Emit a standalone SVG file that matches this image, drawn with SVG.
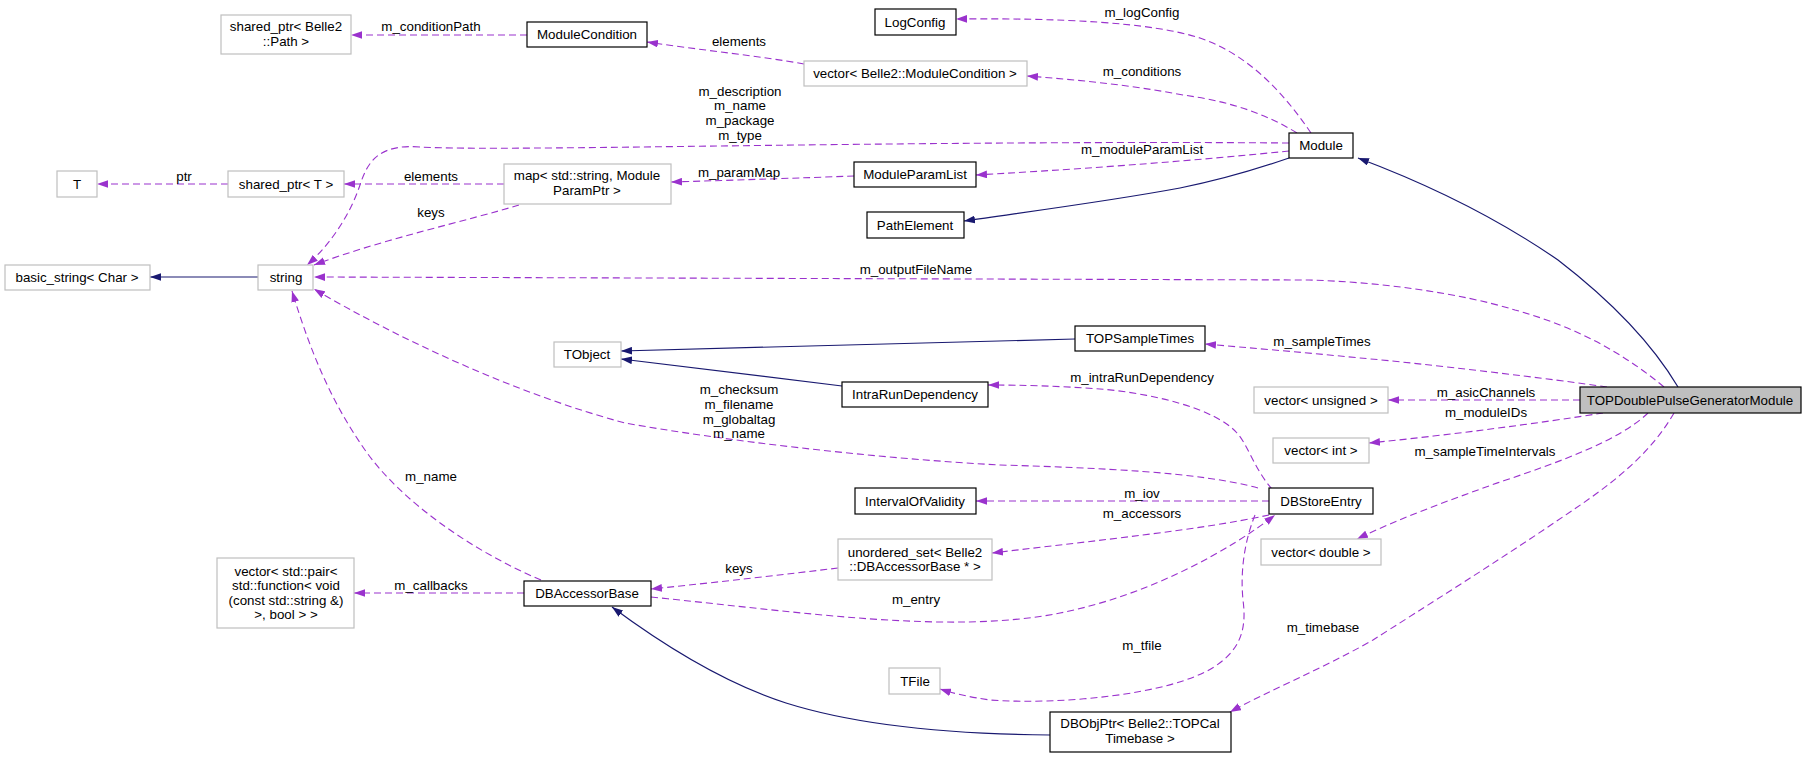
<svg xmlns="http://www.w3.org/2000/svg" width="1807" height="758" viewBox="0 0 1807 758">
<style>
text{font-family:"Liberation Sans",Arial,Helvetica,sans-serif;font-size:13.33px;fill:#000;text-anchor:middle}
.n rect{fill:#fff;stroke:#000;stroke-width:1.2}
.x rect{fill:#fff;stroke:#bfbfbf;stroke-width:1.2}
.m rect{fill:#bfbfbf;stroke:#000;stroke-width:1.2}
.d{fill:none;stroke:#9a32cd;stroke-width:1.1;stroke-dasharray:7,4;marker-end:url(#ap)}
.i{fill:none;stroke:#191970;stroke-width:1.2;marker-end:url(#an)}
</style>
<defs>
<marker id="ap" viewBox="0 0 10 7" refX="10" refY="3.5" markerWidth="11" markerHeight="8" markerUnits="userSpaceOnUse" orient="auto"><path d="M0,0L10,3.5L0,7z" fill="#9a32cd"/></marker>
<marker id="an" viewBox="0 0 10 7" refX="10" refY="3.5" markerWidth="11" markerHeight="8" markerUnits="userSpaceOnUse" orient="auto"><path d="M0,0L10,3.5L0,7z" fill="#191970"/></marker>
</defs>
<rect width="1807" height="758" fill="#fff"/>
<g id="connectors">
<path class="d" d="M527,35L351,35"/><text x="431" y="31">m_conditionPath</text>
<path class="d" d="M804,64C760,56 700,50 647,42"/><text x="739" y="46">elements</text>
<path class="d" d="M1311,133C1285,95 1250,55 1200,38C1150,22 1060,18 956,19"/><text x="1142" y="17">m_logConfig</text>
<path class="d" d="M1297,133C1260,110 1220,100 1183,95C1130,85 1080,80 1027,76"/><text x="1142" y="76">m_conditions</text>
<path class="d" d="M1289,143C900,140 500,152 420,147C380,144 368,160 360,185C350,215 330,245 307,265"/><text x="740" y="96">m_description</text><text x="740" y="110">m_name</text><text x="740" y="125">m_package</text><text x="740" y="140">m_type</text>
<path class="d" d="M1289,151C1200,160 1100,168 976,175"/><text x="1142" y="154">m_moduleParamList</text>
<path class="i" d="M1289,158C1260,168 1220,180 1180,188C1110,201 1040,210 964,221"/>
<path class="i" d="M1678,387C1650,340 1610,300 1558,260C1500,220 1430,185 1358,158"/>
<path class="d" d="M854,176C800,178 740,180 671,182"/><text x="739" y="177">m_paramMap</text>
<path class="d" d="M504,184L344,184"/><text x="431" y="181">elements</text>
<path class="d" d="M228,184L97,184"/><text x="184" y="181">ptr</text>
<path class="d" d="M519,205C470,220 380,240 314,265"/><text x="431" y="217">keys</text>
<path class="i" d="M258,277L150,277"/>
<path class="d" d="M1664,387C1620,350 1570,325 1515,310C1460,293 1380,282 1309,280L314,277"/><text x="916" y="274">m_outputFileName</text>
<path class="i" d="M1075,339L621,351"/>
<path class="i" d="M842,386L621,359"/>
<path class="d" d="M1607,387C1560,380 1420,363 1360,358C1300,352 1250,348 1205,344"/><text x="1322" y="346">m_sampleTimes</text>
<path class="d" d="M1580,400L1388,400"/><text x="1486" y="397">m_asicChannels</text>
<path class="d" d="M1603,413C1540,423 1450,435 1369,443"/><text x="1486" y="417">m_moduleIDs</text>
<path class="d" d="M1648,413C1620,440 1560,462 1500,482C1450,500 1400,518 1357,539"/><text x="1485" y="456">m_sampleTimeIntervals</text>
<path class="d" d="M1674,413C1650,455 1610,485 1573,510C1500,560 1420,610 1373,640C1320,670 1270,690 1230,712"/><text x="1323" y="632">m_timebase</text>
<path class="d" d="M1272,489C1255,470 1248,445 1237,433C1215,408 1150,393 1100,389C1060,386 1020,385 988,385"/><text x="1142" y="382">m_intraRunDependency</text>
<path class="d" d="M1258,488C1200,472 1100,468 1000,465C870,458 720,440 625,423C520,395 400,340 314,289"/><text x="739" y="394">m_checksum</text><text x="739" y="409">m_filename</text><text x="739" y="424">m_globaltag</text><text x="739" y="438">m_name</text>
<path class="d" d="M1269,501L976,501"/><text x="1142" y="498">m_iov</text>
<path class="d" d="M1269,515C1200,530 1100,540 992,553"/><text x="1142" y="518">m_accessors</text>
<path class="d" d="M651,597C800,612 950,635 1060,613C1150,595 1230,550 1275,515"/><text x="916" y="604">m_entry</text>
<path class="d" d="M838,568C780,575 720,582 651,589"/><text x="739" y="573">keys</text>
<path class="d" d="M1255,515C1245,540 1240,570 1243,600C1247,630 1240,650 1214,667C1170,695 1060,705 990,700C970,697 955,694 940,689"/><text x="1142" y="650">m_tfile</text>
<path class="d" d="M541,580C470,550 400,500 365,450C330,400 310,350 292,291"/><text x="431" y="481">m_name</text>
<path class="d" d="M524,593L354,593"/><text x="431" y="590">m_callbacks</text>
<path class="i" d="M1050,735C920,734 840,720 786,703C730,685 670,650 612,607"/>
</g>
<g id="node-path" class="x"><rect x="221" y="15" width="130" height="39"/><text x="286" y="31">shared_ptr&lt; Belle2</text><text x="286" y="46">::Path &gt;</text></g>
<g id="node-modulecondition" class="n"><rect x="527" y="22" width="120" height="25"/><text x="587" y="39">ModuleCondition</text></g>
<g id="node-logconfig" class="n"><rect x="875" y="9" width="81" height="26"/><text x="915" y="27">LogConfig</text></g>
<g id="node-vecmodcond" class="x"><rect x="804" y="61" width="223" height="25"/><text x="915" y="78">vector&lt; Belle2::ModuleCondition &gt;</text></g>
<g id="node-module" class="n"><rect x="1289" y="133" width="64" height="25"/><text x="1321" y="150">Module</text></g>
<g id="node-t" class="x"><rect x="57" y="171" width="40" height="26"/><text x="77" y="189">T</text></g>
<g id="node-sharedptrt" class="x"><rect x="228" y="171" width="116" height="26"/><text x="286" y="189">shared_ptr&lt; T &gt;</text></g>
<g id="node-map" class="x"><rect x="504" y="164" width="167" height="40"/><text x="587" y="180">map&lt; std::string, Module</text><text x="587" y="195">ParamPtr &gt;</text></g>
<g id="node-moduleparamlist" class="n"><rect x="854" y="162" width="122" height="25"/><text x="915" y="179">ModuleParamList</text></g>
<g id="node-pathelement" class="n"><rect x="867" y="212" width="97" height="26"/><text x="915" y="230">PathElement</text></g>
<g id="node-basicstring" class="x"><rect x="5" y="265" width="145" height="25"/><text x="77" y="282">basic_string&lt; Char &gt;</text></g>
<g id="node-string" class="x"><rect x="258" y="265" width="55" height="25"/><text x="286" y="282">string</text></g>
<g id="node-tobject" class="x"><rect x="554" y="342" width="67" height="25"/><text x="587" y="359">TObject</text></g>
<g id="node-topsampletimes" class="n"><rect x="1075" y="326" width="130" height="25"/><text x="1140" y="343">TOPSampleTimes</text></g>
<g id="node-intrarundependency" class="n"><rect x="842" y="382" width="146" height="25"/><text x="915" y="399">IntraRunDependency</text></g>
<g id="node-vecunsigned" class="x"><rect x="1254" y="387" width="134" height="26"/><text x="1321" y="405">vector&lt; unsigned &gt;</text></g>
<g id="node-topdouble" class="m"><rect x="1580" y="387" width="221" height="26"/><text x="1690" y="405">TOPDoublePulseGeneratorModule</text></g>
<g id="node-vecint" class="x"><rect x="1273" y="438" width="96" height="25"/><text x="1321" y="455">vector&lt; int &gt;</text></g>
<g id="node-intervalofvalidity" class="n"><rect x="855" y="488" width="121" height="26"/><text x="915" y="506">IntervalOfValidity</text></g>
<g id="node-dbstoreentry" class="n"><rect x="1269" y="488" width="104" height="26"/><text x="1321" y="506">DBStoreEntry</text></g>
<g id="node-vecdouble" class="x"><rect x="1261" y="539" width="120" height="26"/><text x="1321" y="557">vector&lt; double &gt;</text></g>
<g id="node-unorderedset" class="x"><rect x="838" y="539" width="154" height="41"/><text x="915" y="557">unordered_set&lt; Belle2</text><text x="915" y="571">::DBAccessorBase * &gt;</text></g>
<g id="node-vecpair" class="x"><rect x="217" y="558" width="137" height="70"/><text x="286" y="576">vector&lt; std::pair&lt;</text><text x="286" y="590">std::function&lt; void</text><text x="286" y="605">(const std::string &amp;)</text><text x="286" y="619">&gt;, bool &gt; &gt;</text></g>
<g id="node-dbaccessorbase" class="n"><rect x="524" y="581" width="127" height="25"/><text x="587" y="598">DBAccessorBase</text></g>
<g id="node-tfile" class="x"><rect x="889" y="668" width="51" height="26"/><text x="915" y="686">TFile</text></g>
<g id="node-dbobjptr" class="n"><rect x="1050" y="712" width="181" height="40"/><text x="1140" y="728">DBObjPtr&lt; Belle2::TOPCal</text><text x="1140" y="743">Timebase &gt;</text></g>
</svg>
